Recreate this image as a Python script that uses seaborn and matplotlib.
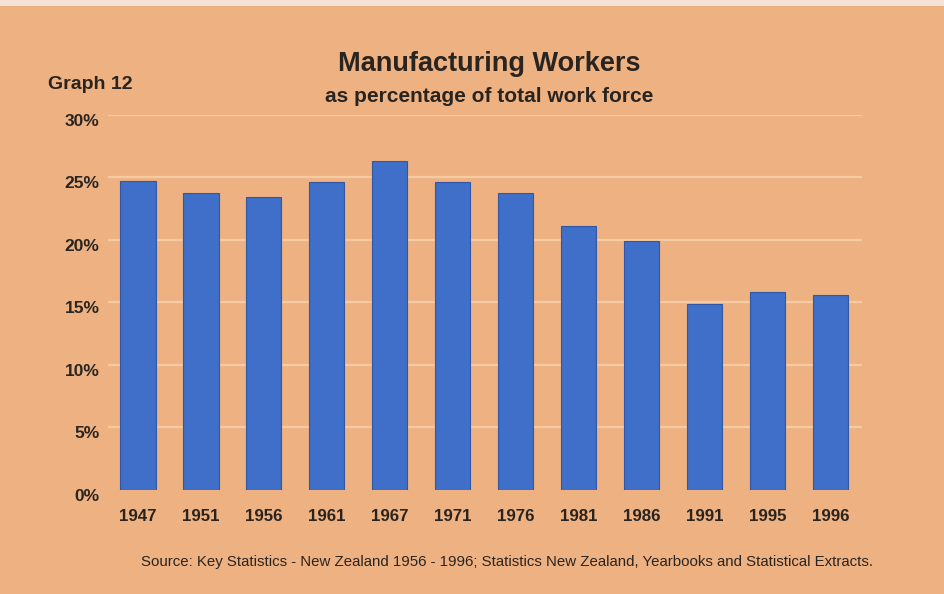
import matplotlib
matplotlib.use("Agg")
import matplotlib.pyplot as plt
import matplotlib.transforms as mtransforms
from matplotlib.patches import Rectangle
import seaborn as sns
import pandas as pd

# Manufacturing workers as a share of the total work force
years = ["1947", "1951", "1956", "1961", "1967", "1971",
         "1976", "1981", "1986", "1991", "1995", "1996"]
share_pct = [24.7, 23.7, 23.4, 24.6, 26.3, 24.6,
             23.7, 21.1, 19.9, 14.9, 15.8, 15.6]
y_ticks = [0, 5, 10, 15, 20, 25, 30]
y_tick_labels = ["0%", "5%", "10%", "15%", "20%", "25%", "30%"]

df = pd.DataFrame({"year": years, "share": share_pct})

sns.set_theme(style="white")
plt.rcParams["font.family"] = ["Liberation Sans", "DejaVu Sans"]

bg = "#EEB282"
bar_color = "#3F6FC8"
grid_color = "#F6CBA3"
text_color = "#2A2420"

fig = plt.figure(figsize=(9.45, 5.94), dpi=100, facecolor=bg)
# pale strip along the top edge of the card
fig.patches.append(Rectangle((0, 0.99), 1, 0.01, transform=fig.transFigure,
                             facecolor="#F4E2D6", edgecolor="none"))
ax = fig.add_axes([0.114, 0.175, 0.798, 0.632], facecolor=bg)

for t in y_ticks[1:]:
    ax.axhline(t, color=grid_color, lw=1.6, zorder=0)

sns.barplot(data=df, x="year", y="share", color=bar_color, width=0.56,
            saturation=1, edgecolor="#2F57A6", linewidth=0.8, ax=ax, zorder=2)

ax.set_xlim(-0.48, 11.5)
ax.set_ylim(0, 30)
ax.set_yticks(y_ticks)
ax.set_yticklabels(y_tick_labels)
ax.set_xlabel("")
ax.set_ylabel("")
for s in ax.spines.values():
    s.set_visible(False)
ax.tick_params(axis="both", length=0, colors=text_color)
ax.tick_params(axis="y", pad=6)
ax.tick_params(axis="x", pad=14)
shift_down = mtransforms.ScaledTranslation(0, -5 / 100, fig.dpi_scale_trans)
for lbl in ax.get_yticklabels():
    lbl.set_fontweight("bold")
    lbl.set_fontsize(12.5)
    lbl.set_transform(lbl.get_transform() + shift_down)
for lbl in ax.get_xticklabels():
    lbl.set_fontweight("bold")
    lbl.set_fontsize(12.2)

fig.text(0.518, 0.893, "Manufacturing Workers", ha="center", va="center",
         fontsize=19.5, fontweight="bold", color=text_color)
fig.text(0.518, 0.838, "as percentage of total work force", ha="center",
         va="center", fontsize=15, fontweight="bold", color=text_color)
fig.text(0.051, 0.858, "Graph 12", ha="left", va="center",
         fontsize=14, fontweight="bold", color=text_color)
fig.text(0.537, 0.054,
         "Source: Key Statistics - New Zealand 1956 - 1996; Statistics New Zealand, "
         "Yearbooks and Statistical Extracts.",
         ha="center", va="center", fontsize=10.8, color=text_color)

fig.savefig("out.png", dpi=100, facecolor=bg)
